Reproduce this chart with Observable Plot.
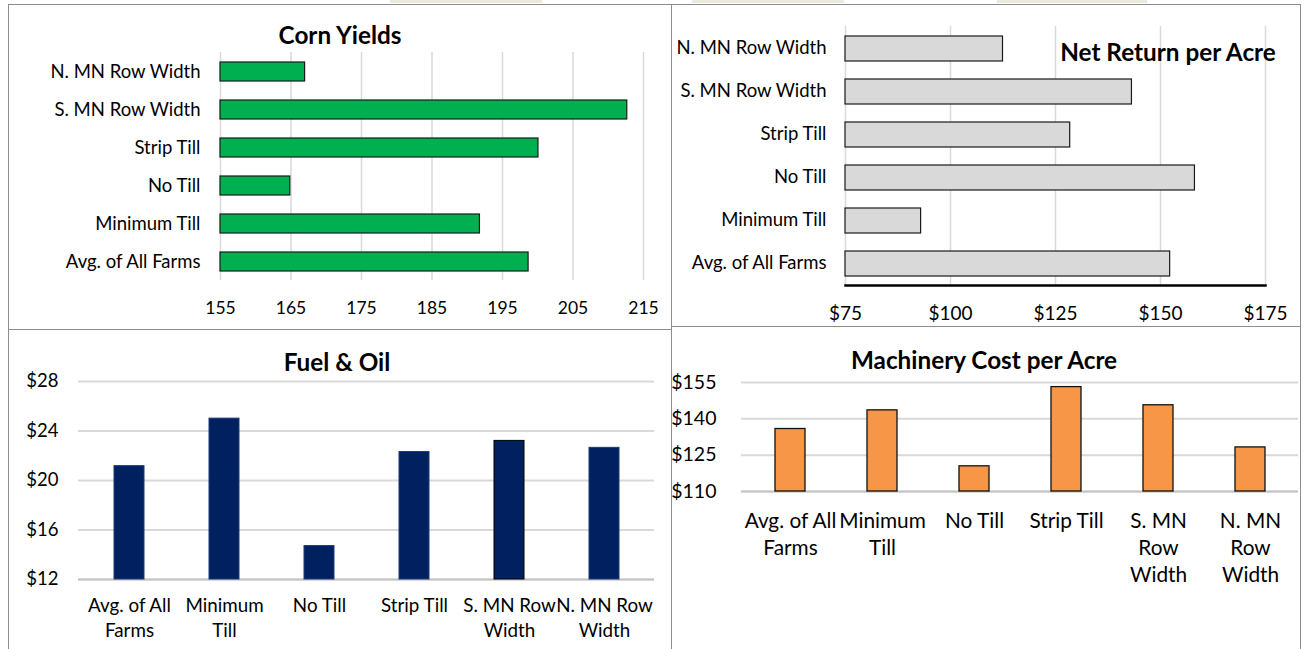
<!DOCTYPE html>
<html><head><meta charset="utf-8">
<script src="https://cdn.jsdelivr.net/npm/d3@7"></script>
<script src="https://cdn.jsdelivr.net/npm/@observablehq/plot@0.6"></script>
<style>
body{margin:0;background:#fff;}
#page{position:relative;width:1307px;height:649px;overflow:hidden;font-family:Lato,"Open Sans",sans-serif;background:#fff}
.panel{position:absolute;border:1.5px solid #8c8c8c;box-sizing:border-box;background:#fff}
.chart{position:absolute}
.title{position:absolute;font-weight:bold;font-size:24.3px;color:#000;white-space:nowrap;transform:translate(-50%,-50%);line-height:1}
.tab{position:absolute;top:0;height:3px;background:#ebe9dc}
</style></head><body>
<div id="page">
  <div class="tab" style="left:390px;width:152px"></div>
  <div class="tab" style="left:692px;width:152px"></div>
  <div class="tab" style="left:997px;width:150px"></div>
  <div class="panel" style="left:8px;top:4px;width:665px;height:327px"></div>
  <div class="panel" style="left:671px;top:4px;width:630px;height:324px"></div>
  <div class="panel" style="left:8px;top:329px;width:665px;height:340px"></div>
  <div class="panel" style="left:671px;top:326px;width:630px;height:340px"></div>
  <div class="chart" id="c1" style="left:9px;top:5px"></div>
  <div class="chart" id="c2" style="left:673px;top:5px"></div>
  <div class="chart" id="c3" style="left:9px;top:331px"></div>
  <div class="chart" id="c4" style="left:673px;top:328px"></div>
  <div class="title" style="left:340px;top:35px">Corn Yields</div>
  <div class="title" style="left:1168px;top:52px">Net Return per Acre</div>
  <div class="title" style="left:337px;top:362px">Fuel &amp; Oil</div>
  <div class="title" style="left:984px;top:360px">Machinery Cost per Acre</div>
</div>
<script>
// ---- data ----
const categoriesH = ["N. MN Row Width", "S. MN Row Width", "Strip Till", "No Till", "Minimum Till", "Avg. of All Farms"];
const cornYields = [167, 212.7, 200.1, 164.9, 191.8, 198.7];
const netReturn = [112.5, 143.2, 128.5, 158.2, 93, 152.3];

const categoriesV = ["Avg. of All Farms", "Minimum Till", "No Till", "Strip Till", "S. MN Row Width", "N. MN Row Width"];
const fuelOil = [21.16, 25.0, 14.7, 22.3, 23.2, 22.64];
const machineryCost = [135.8, 143.5, 120.4, 153.1, 145.6, 128.2];

const cornTicks = [155, 165, 175, 185, 195, 205, 215];
const netTicks = [75, 100, 125, 150, 175];
const fuelTicks = [12, 16, 20, 24, 28];
const machTicks = [110, 125, 140, 155];

const fuelLabels = ["Avg. of All\nFarms", "Minimum\nTill", "No Till", "Strip Till", "S. MN Row\nWidth", "N. MN Row\nWidth"];
const machLabels = ["Avg. of All\nFarms", "Minimum\nTill", "No Till", "Strip Till", "S. MN\nRow\nWidth", "N. MN\nRow\nWidth"];

// ---- tables ----
const cornData = categoriesH.map((cat, i) => ({cat, value: cornYields[i]}));
const netData = categoriesH.map((cat, i) => ({cat, value: netReturn[i]}));
const fuelData = categoriesV.map((cat, i) => ({cat, value: fuelOil[i]}));
const machData = categoriesV.map((cat, i) => ({cat, value: machineryCost[i]}));

const font = "Lato, 'Open Sans', sans-serif";
const baseStyle = {background: "transparent", color: "#000", fontFamily: font, overflow: "visible"};

// Corn Yields
const corn = Plot.plot({
  width: 662, height: 324,
  marginLeft: 211, marginRight: 28, marginTop: 47, marginBottom: 49,
  style: baseStyle,
  x: {domain: [155, 215]},
  y: {domain: categoriesH, paddingInner: 0.5, paddingOuter: 0.25},
  marks: [
    Plot.gridX(cornTicks, {stroke: "#d9d9d9", strokeOpacity: 1, strokeWidth: 1.5}),
    Plot.barX(cornData, {x1: 155, x2: "value", y: "cat", fill: "#00B050", stroke: "#1a1a1a", strokeWidth: 1.2}),
    Plot.axisX(cornTicks, {tickSize: 0, tickPadding: 21, label: null, fontSize: 17.5}),
    Plot.axisY({tickSize: 0, tickPadding: 20, label: null, fontSize: 18.5})
  ]
});
document.getElementById("c1").append(corn);

// Net Return per Acre
const net = Plot.plot({
  width: 626, height: 321,
  marginLeft: 172, marginRight: 34, marginTop: 21, marginBottom: 41,
  style: baseStyle,
  x: {domain: [75, 175]},
  y: {domain: categoriesH, paddingInner: 0.42, paddingOuter: 0.21},
  marks: [
    Plot.gridX(netTicks, {stroke: "#d9d9d9", strokeOpacity: 1, strokeWidth: 1.5}),
    Plot.barX(netData, {x1: 75, x2: "value", y: "cat", fill: "#d9d9d9", stroke: "#1a1a1a", strokeWidth: 1.2}),
    Plot.frame({anchor: "bottom", stroke: "#000", strokeWidth: 2.5}),
    Plot.axisX(netTicks, {tickSize: 0, tickPadding: 21, label: null, fontSize: 19, tickFormat: d => "$" + d}),
    Plot.axisY({tickSize: 0, tickPadding: 19, label: null, fontSize: 18.5, dy: -1})
  ]
});
document.getElementById("c2").append(net);

// Fuel & Oil
const fuel = Plot.plot({
  width: 662, height: 318,
  marginLeft: 69, marginRight: 17, marginTop: 50, marginBottom: 70,
  style: baseStyle,
  x: {domain: categoriesV, paddingInner: 0.6875, paddingOuter: 0.344},
  y: {domain: [12, 28]},
  marks: [
    Plot.gridY(fuelTicks, {stroke: "#d9d9d9", strokeOpacity: 1, strokeWidth: 2}),
    Plot.ruleY([12], {stroke: "#c4c4c4", strokeWidth: 2}),
    Plot.barY(fuelData, {x: "cat", y1: 12, y2: "value", fill: "#002060",
      stroke: d => d.cat === "S. MN Row Width" ? "#000000" : "#1d3a78", strokeWidth: 1}),
    Plot.axisY(fuelTicks, {tickSize: 0, tickPadding: 20, label: null, fontSize: 18.5, tickFormat: d => "$" + d}),
    Plot.axisX({tickSize: 0, tickPadding: 15.5, label: null, fontSize: 18.8, lineHeight: 1.3,
      tickFormat: d => fuelLabels[categoriesV.indexOf(d)]})
  ]
});
document.getElementById("c3").append(fuel);

// Machinery Cost per Acre
const mach = Plot.plot({
  width: 626, height: 321,
  marginLeft: 68, marginRight: 1, marginTop: 54, marginBottom: 158,
  style: baseStyle,
  x: {domain: categoriesV, paddingInner: 0.677, paddingOuter: 0.34},
  y: {domain: [110, 155]},
  marks: [
    Plot.gridY(machTicks, {stroke: "#d9d9d9", strokeOpacity: 1, strokeWidth: 2}),
    Plot.ruleY([110], {stroke: "#c4c4c4", strokeWidth: 2}),
    Plot.barY(machData, {x: "cat", y1: 110, y2: "value", fill: "#F79646", stroke: "#111", strokeWidth: 1.3}),
    Plot.axisY(machTicks, {tickSize: 0, tickPadding: 25, label: null, fontSize: 19.5, tickFormat: d => "$" + d}),
    Plot.axisX({tickSize: 0, tickPadding: 17.5, label: null, fontSize: 20.8, lineHeight: 1.3,
      tickFormat: d => machLabels[categoriesV.indexOf(d)]})
  ]
});
document.getElementById("c4").append(mach);
</script>
</body></html>
